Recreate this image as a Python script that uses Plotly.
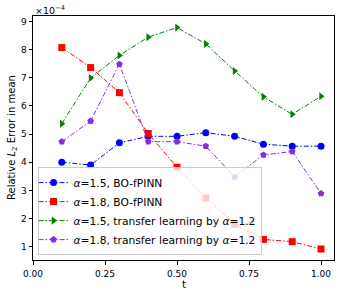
import plotly.graph_objects as go

t = [0.1, 0.2, 0.3, 0.4, 0.5, 0.6, 0.7, 0.8, 0.9, 1.0]
bo_15 = [4.00, 3.90, 4.69, 4.92, 4.92, 5.05, 4.92, 4.64, 4.57, 4.57]
bo_18 = [8.07, 7.36, 6.47, 5.02, 3.82, 2.73, 1.80, 1.26, 1.18, 0.92]
tl_15 = [5.37, 6.99, 7.79, 8.44, 8.78, 8.20, 7.24, 6.32, 5.70, 6.34]
tl_18 = [4.73, 5.46, 7.48, 4.73, 4.73, 4.57, 3.48, 4.26, 4.38, 2.89]

names = ["<i>α</i>=1.5, BO-fPINN", "<i>α</i>=1.8, BO-fPINN",
         "<i>α</i>=1.5, transfer learning by <i>α</i>=1.2",
         "<i>α</i>=1.8, transfer learning by <i>α</i>=1.2"]
series = [bo_15, bo_18, tl_15, tl_18]
colors = ["#0000ff", "#ff0000", "#008000", "#8a2be2"]
symbols = ["circle", "square", "triangle-right", "pentagon"]

fig = go.Figure()
for n, s, c, m in zip(names, series, colors, symbols):
    fig.add_trace(go.Scatter(x=t, y=s, name=n, mode="lines+markers",
                             line=dict(color=c, width=1, dash="5px,2px,1.5px,2px"),
                             marker=dict(color=c, symbol=m, size=7)))

fig.update_layout(
    width=341, height=296,
    margin=dict(l=33, r=7, t=16, b=36),
    paper_bgcolor="white", plot_bgcolor="white",
    font=dict(family="DejaVu Sans", size=9, color="black"),
    showlegend=True,
    legend=dict(x=0.015, y=0.02, xanchor="left", yanchor="bottom",
                xref="paper", yref="paper",
                bgcolor="rgba(255,255,255,0.8)", bordercolor="#cccccc", borderwidth=1,
                font=dict(size=10.7), tracegroupgap=0, itemwidth=30,
                indentation=-5),
    xaxis=dict(range=[0, 1.045], tickvals=[0, 0.25, 0.5, 0.75, 1.0],
               ticktext=["0.00", "0.25", "0.50", "0.75", "1.00"],
               ticks="outside", ticklen=3.5, tickwidth=1, tickcolor="black",
               ticklabelstandoff=2,
               showline=True, linecolor="black", linewidth=1, mirror=True,
               showgrid=False, zeroline=False, automargin=False),
    yaxis=dict(range=[0.53, 9.19], tickvals=[1, 2, 3, 4, 5, 6, 7, 8, 9],
               ticks="outside", ticklen=3.5, tickwidth=1, tickcolor="black",
               showline=True, linecolor="black", linewidth=1, mirror=True,
               showgrid=False, zeroline=False, automargin=False),
    annotations=[
        dict(text="×10<sup>−4</sup>", x=0, y=1, xref="paper", yref="paper",
             xanchor="left", yanchor="bottom", showarrow=False,
             font=dict(size=9.5), xshift=0, yshift=-2),
        dict(text="t", x=0.5, y=0, xref="paper", yref="paper",
             xanchor="center", yanchor="middle", showarrow=False,
             font=dict(size=10.5), yshift=-24),
        dict(text="Relative <i>L</i><sub>2</sub> Error in mean", x=0, y=0.5,
             xref="paper", yref="paper", xanchor="center", yanchor="middle",
             textangle=-90, showarrow=False, font=dict(size=10), xshift=-21),
    ],
)

fig.write_html("out.html", config={"displayModeBar": False},
               post_script="document.body.style.margin='0';")
